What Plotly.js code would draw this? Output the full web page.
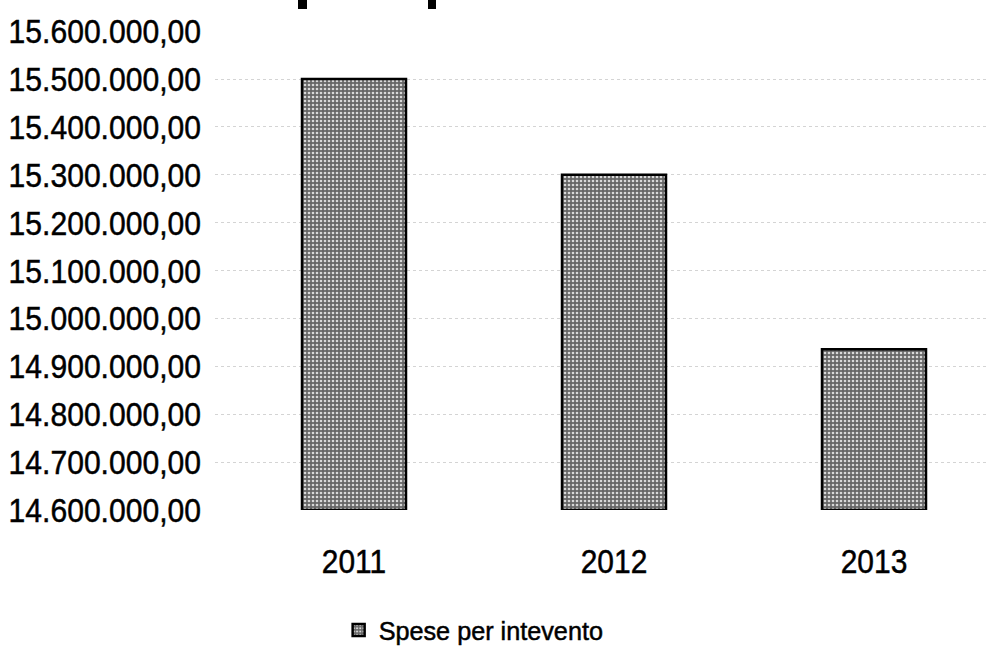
<!DOCTYPE html>
<html>
<head>
<meta charset="utf-8">
<script src="https://cdn.plot.ly/plotly-3.0.1.min.js"></script>
<style>html,body{margin:0;padding:0;background:#fff;}#chart{width:996px;height:654px;}</style>
</head>
<body>
<div id="chart"></div>
<script>
const categories = ['2011', '2012', '2013'];
const speseValues = [15500000, 15300000, 14936000];
const seriesName = 'Spese per intevento';
const axisBase = 14600000;
const yTickValues = [14600000, 14700000, 14800000, 14900000, 15000000, 15100000, 15200000, 15300000, 15400000, 15500000, 15600000];
const yTickLabels = ['14.600.000,00', '14.700.000,00', '14.800.000,00', '14.900.000,00', '15.000.000,00', '15.100.000,00', '15.200.000,00', '15.300.000,00', '15.400.000,00', '15.500.000,00', '15.600.000,00'];

const W = 996, H = 654;
const mL = 215, mR = 10, mT = 31, mB = 144;
const plotW = W - mL - mR;
const pitch = 260;
const x0 = -(354 - mL) / pitch;
const x1 = x0 + plotW / pitch;

const FAMILY = '"Liberation Sans", Arial, sans-serif';

const trace = {
  type: 'bar',
  x: categories,
  y: speseValues.map(v => v - axisBase),
  base: axisBase,
  name: seriesName,
  showlegend: true,
  width: 0.4,
  marker: {
    color: '#8c8c8c',
    line: {color: '#000', width: 2.5},
    pattern: {shape: '.', fgcolor: '#d8d8d8', bgcolor: '#666666', size: 4, solidity: 0.35}
  },
  hoverinfo: 'none'
};

const font = {family: FAMILY, size: 34, color: '#000'};

const layout = {
  width: W, height: H,
  margin: {l: mL, r: mR, t: mT, b: mB, pad: 0},
  paper_bgcolor: '#fff',
  plot_bgcolor: '#fff',
  font: font,
  showlegend: true,
  xaxis: {
    type: 'category',
    range: [x0, x1],
    showgrid: false, zeroline: false, showline: false,
    ticks: '',
    ticklabelstandoff: 28,
    tickfont: font
  },
  yaxis: {
    range: [14600000, 15600500],
    tickvals: yTickValues,
    ticktext: yTickLabels,
    showgrid: true,
    gridcolor: '#d4d4d4',
    griddash: 'dot',
    gridwidth: 1,
    zeroline: false, showline: false,
    ticks: '',
    ticklabelstandoff: 13,
    tickfont: font
  },
  legend: {
    orientation: 'h',
    xref: 'container', yref: 'container',
    x: 0.34, y: 1 - 630 / H,
    xanchor: 'left', yanchor: 'middle',
    font: {family: FAMILY, size: 26, color: '#000'},
    itemwidth: 30,
    bgcolor: 'rgba(0,0,0,0)'
  },
  shapes: [
    {type: 'rect', xref: 'paper', yref: 'paper',
     x0: (298 - mL) / plotW, x1: (307 - mL) / plotW,
     y0: 1 + (mT - 9) / (H - mT - mB), y1: 1 + mT / (H - mT - mB),
     fillcolor: '#000', line: {width: 0}},
    {type: 'rect', xref: 'paper', yref: 'paper',
     x0: (428 - mL) / plotW, x1: (436 - mL) / plotW,
     y0: 1 + (mT - 9) / (H - mT - mB), y1: 1 + mT / (H - mT - mB),
     fillcolor: '#000', line: {width: 0}}
  ]
};

function condense(sel, ratio) {
  document.querySelectorAll(sel).forEach(t => {
    const w = t.getComputedTextLength();
    t.setAttribute('textLength', (w * ratio).toFixed(1));
    t.setAttribute('lengthAdjust', 'spacingAndGlyphs');
    t.style.stroke = '#000';
    t.style.strokeWidth = '0.5px';
  });
}

Plotly.newPlot('chart', [trace], layout, {staticPlot: true, displayModeBar: false}).then(() => {
  condense('#chart .ytick text', 0.885);
  condense('#chart .xtick text', 0.88);
  condense('#chart .legendtext', 0.97);
});
</script>
</body>
</html>
